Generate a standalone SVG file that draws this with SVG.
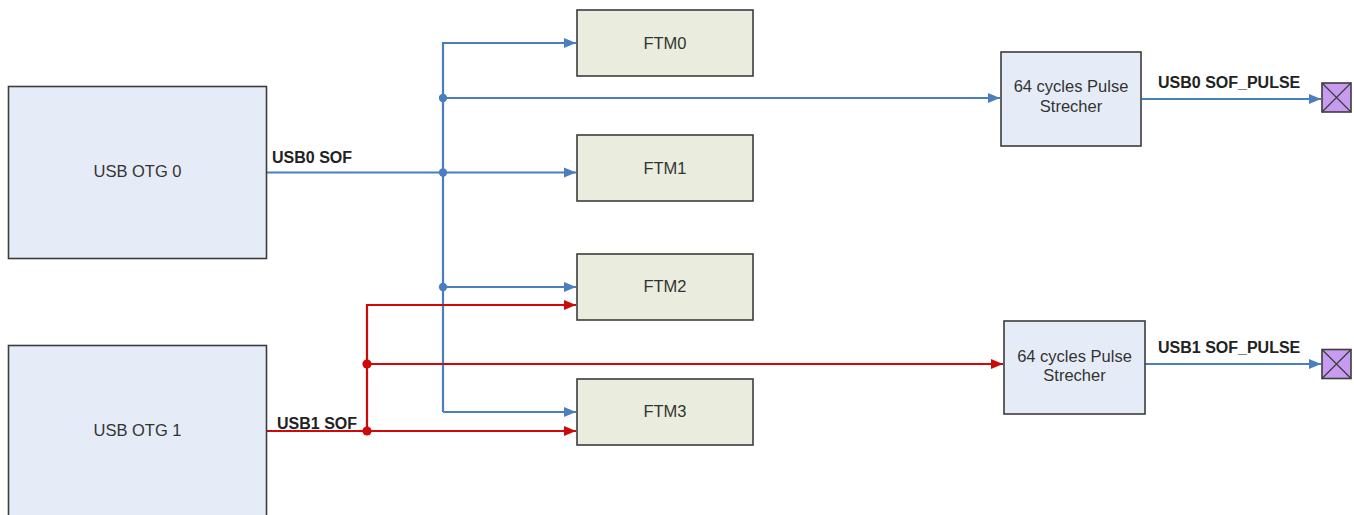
<svg xmlns="http://www.w3.org/2000/svg" width="1354" height="515" viewBox="0 0 1354 515">
<style>
.box{stroke:#3c3c3c;stroke-width:1.6}
.usb{fill:#e6ecf7}
.ftm{fill:#eaeddd}
.term{fill:#c69bf0}
.t{font-family:"Liberation Sans",Arial,sans-serif;font-size:16.5px;fill:#333;text-anchor:middle}
.lb{font-family:"Liberation Sans",Arial,sans-serif;font-weight:bold;font-size:16px;fill:#222}
.b{stroke:#4a7ebf;stroke-width:2.2;fill:none}
.r{stroke:#cc0a0a;stroke-width:2.2;fill:none}
.bd{fill:#4a7ebf}
.rd{fill:#cc0a0a}
</style>
<defs>
<marker id="ab" markerUnits="userSpaceOnUse" markerWidth="13" markerHeight="11" refX="12" refY="5.5" orient="auto"><path d="M0,0.5 L12,5.5 L0,10.5 z" fill="#4a7ebf"/></marker>
<marker id="ar" markerUnits="userSpaceOnUse" markerWidth="13" markerHeight="11" refX="12" refY="5.5" orient="auto"><path d="M0,0.5 L12,5.5 L0,10.5 z" fill="#cc0a0a"/></marker>
</defs>
<rect width="1354" height="515" fill="#fff"/>
<g id="connectors">
<path class="b" d="M267,172.5 H443"/>
<path class="b" d="M443,412 V43 H576" marker-end="url(#ab)"/>
<path class="b" d="M443,98 H1000" marker-end="url(#ab)"/>
<path class="b" d="M443,172.5 H576" marker-end="url(#ab)"/>
<path class="b" d="M443,287 H576" marker-end="url(#ab)"/>
<path class="b" d="M443,412 H576" marker-end="url(#ab)"/>
<path class="r" d="M267,431 H576" marker-end="url(#ar)"/>
<path class="r" d="M367,431 V305 H576" marker-end="url(#ar)"/>
<path class="r" d="M367,364 H1003" marker-end="url(#ar)"/>
<path class="b" d="M1142,99 H1321" marker-end="url(#ab)"/>
<path class="b" d="M1145,364 H1321" marker-end="url(#ab)"/>
<circle class="bd" cx="443" cy="98" r="4.2"/>
<circle class="bd" cx="443" cy="172.5" r="4.2"/>
<circle class="bd" cx="443" cy="287" r="4.2"/>
<circle class="rd" cx="367" cy="364" r="4.6"/>
<circle class="rd" cx="367" cy="431" r="4.6"/>
<text class="lb" x="272" y="163">USB0 SOF</text>
<text class="lb" x="277" y="429">USB1 SOF</text>
<text class="lb" x="1158" y="88">USB0 SOF_PULSE</text>
<text class="lb" x="1158" y="353">USB1 SOF_PULSE</text>
</g>
<g id="usb_otg_0"><rect class="box usb" x="8.5" y="86.5" width="258" height="172"/><text class="t" x="137.5" y="177">USB OTG 0</text></g>
<g id="usb_otg_1"><rect class="box usb" x="8.5" y="345.5" width="258" height="180"/><text class="t" x="137.5" y="436">USB OTG 1</text></g>
<g id="ftm0"><rect class="box ftm" x="577" y="10" width="176" height="66"/><text class="t" x="665" y="49">FTM0</text></g>
<g id="ftm1"><rect class="box ftm" x="577" y="135" width="176" height="66"/><text class="t" x="665" y="174">FTM1</text></g>
<g id="ftm2"><rect class="box ftm" x="577" y="254" width="176" height="66"/><text class="t" x="665" y="292">FTM2</text></g>
<g id="ftm3"><rect class="box ftm" x="577" y="379" width="176" height="66"/><text class="t" x="665" y="417">FTM3</text></g>
<g id="pulse0"><rect class="box usb" x="1001" y="52" width="140" height="94"/><text class="t" x="1071" y="92">64 cycles Pulse</text><text class="t" x="1071" y="112">Strecher</text></g>
<g id="pulse1"><rect class="box usb" x="1004" y="321" width="141" height="93"/><text class="t" x="1074.5" y="362">64 cycles Pulse</text><text class="t" x="1074.5" y="381">Strecher</text></g>
<g id="term0"><rect class="box term" x="1322" y="83" width="29" height="29"/><path d="M1322,83 L1351,112 M1351,83 L1322,112" stroke="#3c3c3c" stroke-width="1.2"/></g>
<g id="term1"><rect class="box term" x="1322" y="349.5" width="29" height="29"/><path d="M1322,349.5 L1351,378.5 M1351,349.5 L1322,378.5" stroke="#3c3c3c" stroke-width="1.2"/></g>
</svg>
